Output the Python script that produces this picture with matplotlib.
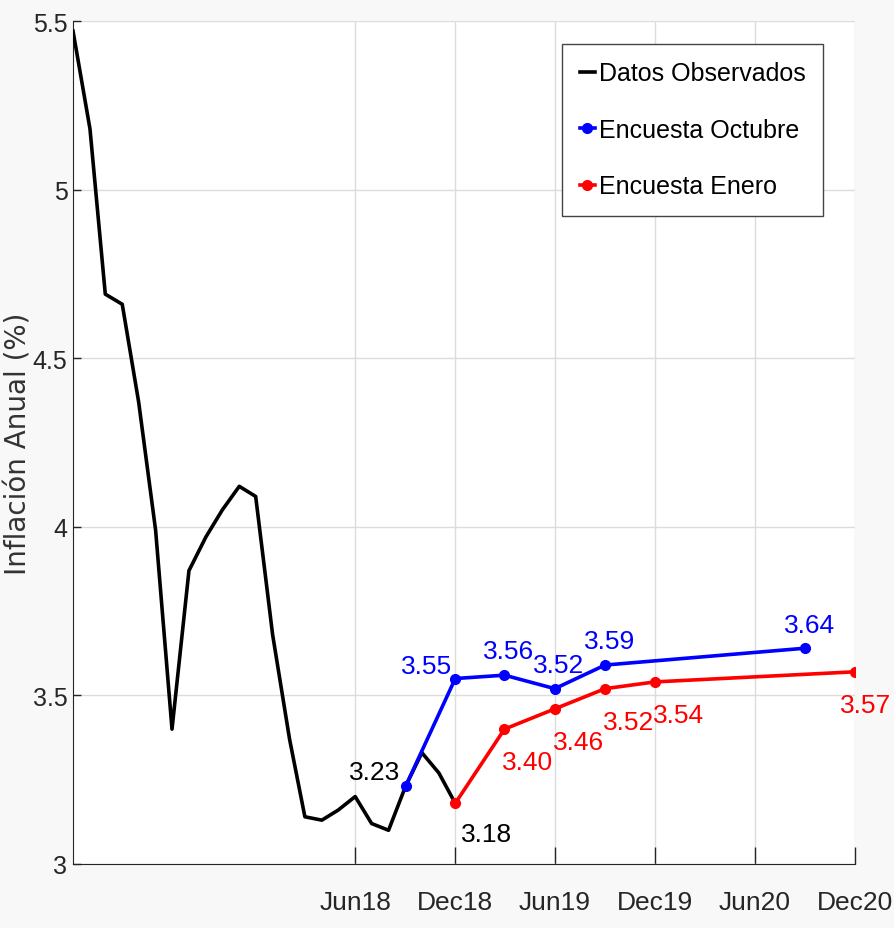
# Inflación anual: datos observados vs encuestas de expectativas
import pandas as pd
import matplotlib
matplotlib.use("Agg")
import matplotlib.pyplot as plt
import matplotlib.dates as mdates

obs_dates = pd.date_range("2017-01-01", "2018-12-01", freq="MS")
obs_vals = [5.47, 5.18, 4.69, 4.66, 4.37, 3.99, 3.40, 3.87, 3.97, 4.05, 4.12, 4.09,
            3.68, 3.37, 3.14, 3.13, 3.16, 3.20, 3.12, 3.10, 3.23, 3.33, 3.27, 3.18]

oct_dates = pd.to_datetime(["2018-09-01", "2018-12-01", "2019-03-01",
                            "2019-06-01", "2019-09-01", "2020-09-01"])
oct_vals = [3.23, 3.55, 3.56, 3.52, 3.59, 3.64]

ene_dates = pd.to_datetime(["2018-12-01", "2019-03-01", "2019-06-01",
                            "2019-09-01", "2019-12-01", "2020-12-01"])
ene_vals = [3.18, 3.40, 3.46, 3.52, 3.54, 3.57]

tick_dates = pd.to_datetime(["2018-06-01", "2018-12-01", "2019-06-01",
                             "2019-12-01", "2020-06-01", "2020-12-01"])
y_ticks = [3, 3.5, 4, 4.5, 5, 5.5]

plt.rcParams["font.family"] = ["Liberation Sans", "DejaVu Sans"]

fig = plt.figure(figsize=(8.95, 9.29), dpi=100, facecolor="#f8f8f8")
ax = fig.add_axes([0.0816, 0.0689, 0.8737, 0.9074])
ax.set_facecolor("white")

ax.plot(obs_dates, obs_vals, color="black", lw=2.6, label="Datos Observados", zorder=3)
ax.plot(oct_dates, oct_vals, color="blue", lw=2.6, marker="o", ms=7,
        label="Encuesta Octubre", zorder=4)
ax.plot(ene_dates, ene_vals, color="red", lw=2.6, marker="o", ms=7,
        label="Encuesta Enero", zorder=4)

fs = 19
# black labels at the start of each survey
ax.annotate(f"{oct_vals[0]:.2f}", (oct_dates[0], oct_vals[0]), xytext=(-4, 5),
            textcoords="offset points", ha="right", va="baseline", fontsize=fs, color="black")
ax.annotate(f"{ene_vals[0]:.2f}", (ene_dates[0], ene_vals[0]), xytext=(4, -27),
            textcoords="offset points", ha="left", va="baseline", fontsize=fs, color="black")

for i, (d, v) in enumerate(zip(oct_dates[1:], oct_vals[1:])):
    if i == 0:
        ax.annotate(f"{v:.2f}", (d, v), xytext=(-2, 4), textcoords="offset points",
                    ha="right", va="baseline", fontsize=fs, color="blue")
    else:
        ax.annotate(f"{v:.2f}", (d, v), xytext=(3, 12), textcoords="offset points",
                    ha="center", va="baseline", fontsize=fs, color="blue")

for d, v in zip(ene_dates[1:], ene_vals[1:]):
    if d == ene_dates[-1]:
        # last one sits at the right edge
        ax.annotate(f"{v:.2f}", (d, v), xytext=(26, -29), textcoords="offset points",
                    ha="right", va="baseline", fontsize=fs, color="red")
    else:
        ax.annotate(f"{v:.2f}", (d, v), xytext=(-1.5, -29), textcoords="offset points",
                    ha="left", va="baseline", fontsize=fs, color="red")

ax.set_xlim(pd.Timestamp("2017-01-01"), pd.Timestamp("2020-12-01"))
ax.set_ylim(3, 5.5)
ax.set_xticks(tick_dates)
ax.xaxis.set_major_formatter(mdates.DateFormatter("%b%y"))
ax.set_yticks(y_ticks)
ax.set_yticklabels([f"{t:g}" for t in y_ticks])

ax.grid(True, color="#dcdcdc", lw=1.0)
ax.set_axisbelow(True)
ax.tick_params(axis="x", direction="in", length=12, width=1, pad=19,
               labelsize=19, labelcolor="#262626", color="#262626")
ax.tick_params(axis="y", direction="in", length=6, width=1, pad=4,
               labelsize=18, labelcolor="#262626", color="#262626")
for s in ["top", "right"]:
    ax.spines[s].set_visible(False)
for s in ["left", "bottom"]:
    ax.spines[s].set_color("#262626")

ax.set_ylabel("Inflación Anual (%)", family="DejaVu Sans", fontsize=20,
              color="#333333")
ax.yaxis.set_label_coords(-0.0524, 0.5)

leg = ax.legend(loc="upper right", bbox_to_anchor=(0.959, 0.973), fontsize=18,
                handlelength=0.6, handletextpad=0.15, labelspacing=1.3,
                borderpad=0.7, borderaxespad=0, fancybox=False, framealpha=1,
                edgecolor="#444444")
leg.get_frame().set_linewidth(1.0)

fig.savefig("out.png", dpi=100, facecolor=fig.get_facecolor())
